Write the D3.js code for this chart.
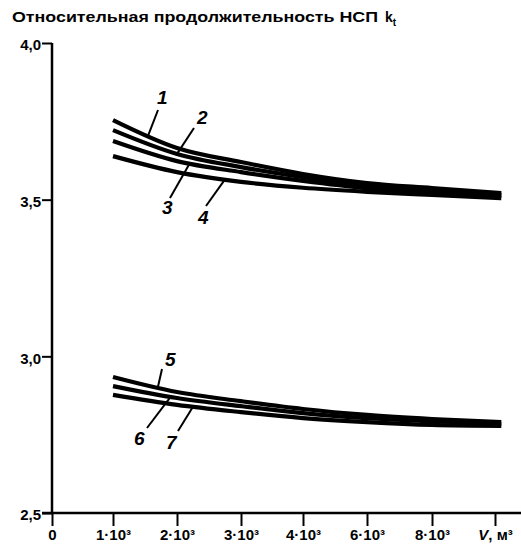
<!DOCTYPE html>
<html><head><meta charset="utf-8">
<script src="https://cdn.jsdelivr.net/npm/d3@7"></script>
<style>body{margin:0;background:#fff}svg{display:block}</style>
</head><body>
<svg id="c" width="521" height="548"></svg>
<script>
// ---- data ----
const xValues = [1000, 2000, 3000, 4000, 6000, 8000, 10200];
const curve1 = [3.754, 3.665, 3.620, 3.582, 3.553, 3.537, 3.521];
const curve2 = [3.722, 3.646, 3.604, 3.572, 3.547, 3.531, 3.515];
const curve3 = [3.687, 3.623, 3.588, 3.560, 3.537, 3.524, 3.512];
const curve4 = [3.639, 3.588, 3.557, 3.538, 3.525, 3.515, 3.505];
const curve5 = [2.934, 2.886, 2.857, 2.832, 2.813, 2.800, 2.790];
const curve6 = [2.905, 2.867, 2.841, 2.819, 2.803, 2.793, 2.784];
const curve7 = [2.877, 2.845, 2.822, 2.803, 2.790, 2.781, 2.778];
const seriesNames = ["1","2","3","4","5","6","7"];
const xTickValues = [0, 1000, 2000, 3000, 4000, 6000, 8000, 10000];
const xTickLabels = ["0", "1·10³", "2·10³", "3·10³", "4·10³", "6·10³", "8·10³", "V, м³"];
const yTickValues = [2.5, 3.0, 3.5, 4.0];
const yTickLabels = ["2,5", "3,0", "3,5", "4,0"];
const titleText = "Относительная продолжительность НСП";

const svg = d3.select("#c");
const yTop = 43, yBot = 513;
const xTickPos = [52, 113, 177, 241, 303, 367, 432, 495];
const x = d3.scaleLinear().domain(xTickValues).range(xTickPos);
const y = d3.scaleLinear().domain([2.5, 4.0]).range([yBot, yTop]);
const x0 = x(0);

const font = "'Liberation Sans', Arial, sans-serif";

// title
svg.append("text").attr("x", 12).attr("y", 22)
  .attr("font-family", font).attr("font-weight", "bold").attr("font-size", 14)
  .attr("textLength", 366).attr("lengthAdjust", "spacingAndGlyphs")
  .text(titleText);
const kt = svg.append("text").attr("x", 385).attr("y", 22)
  .attr("font-family", font).attr("font-weight", "bold").attr("font-size", 14);
kt.append("tspan").text("k");
kt.append("tspan").attr("dy", 4).attr("font-size", 10).text("t");

// y axis
const yAxis = svg.append("g").attr("transform", `translate(${x0},0)`)
  .call(d3.axisLeft(y).tickValues(yTickValues).tickSize(10).tickSizeOuter(0)
    .tickFormat((d, i) => yTickLabels[i]));
yAxis.select(".domain").attr("stroke", "#000").attr("stroke-width", 2.5)
  .attr("d", `M0,${yTop}V${yBot}`);
yAxis.selectAll(".tick line").attr("stroke", "#000").attr("stroke-width", 2);
yAxis.selectAll(".tick text").attr("font-family", font).attr("font-weight", "bold")
  .attr("font-size", 15).attr("fill", "#000").attr("x", -11).attr("dy", "0.45em");

// x axis
const xAxis = svg.append("g").attr("transform", `translate(0,${yBot})`)
  .call(d3.axisBottom(x).tickValues(xTickValues).tickSize(13).tickSizeOuter(0)
    .tickFormat((d, i) => xTickLabels[i]));
xAxis.select(".domain").attr("stroke", "#000").attr("stroke-width", 2.5)
  .attr("d", `M${x0 - 10},0H521`);
xAxis.selectAll(".tick line").attr("stroke", "#000").attr("stroke-width", 2);
xAxis.selectAll(".tick text").attr("font-family", font).attr("font-weight", "bold")
  .attr("font-size", 15).attr("fill", "#000").attr("y", 16);
xAxis.selectAll(".tick text").filter((d, i) => i === xTickLabels.length - 1)
  .text(null).call(t => {
    t.append("tspan").attr("font-style", "italic").text("V");
    t.append("tspan").text(", м³");
  });

// curves
const allSeries = [curve1, curve2, curve3, curve4, curve5, curve6, curve7];
const line = d3.line().x((d, i) => x(xValues[i])).y(d => y(d)).curve(d3.curveMonotoneX);
svg.append("g").selectAll("path").data(allSeries).join("path")
  .attr("d", line).attr("fill", "none").attr("stroke", "#000")
  .attr("stroke-width", 4.2).attr("stroke-linecap", "butt");

// curve labels with leader lines
const labelSpecs = [
  {s: 0, at: 1550, lx: 157, ly: 104, fx: 158, fy: 110},
  {s: 1, at: 2000, lx: 197, ly: 124, fx: 194, fy: 128},
  {s: 2, at: 2200, lx: 162, ly: 214, fx: 170, fy: 198},
  {s: 3, at: 2750, lx: 198, ly: 224, fx: 206, fy: 206},
  {s: 4, at: 1700, lx: 165, ly: 366, fx: 162, fy: 369},
  {s: 5, at: 1900, lx: 134, ly: 445, fx: 147, fy: 428},
  {s: 6, at: 2250, lx: 166, ly: 449, fx: 178, fy: 431}
];
const g = svg.append("g");
labelSpecs.forEach(L => {
  const ser = allSeries[L.s];
  const yi = d3.scaleLinear().domain(xValues).range(ser)(L.at);
  g.append("line").attr("x1", L.fx).attr("y1", L.fy)
    .attr("x2", x(L.at)).attr("y2", y(yi))
    .attr("stroke", "#000").attr("stroke-width", 2);
  g.append("text").attr("x", L.lx).attr("y", L.ly)
    .attr("font-family", font).attr("font-style", "italic").attr("font-weight", "bold")
    .attr("font-size", 19).attr("fill", "#000").text(seriesNames[L.s]);
});
</script>
</body></html>
